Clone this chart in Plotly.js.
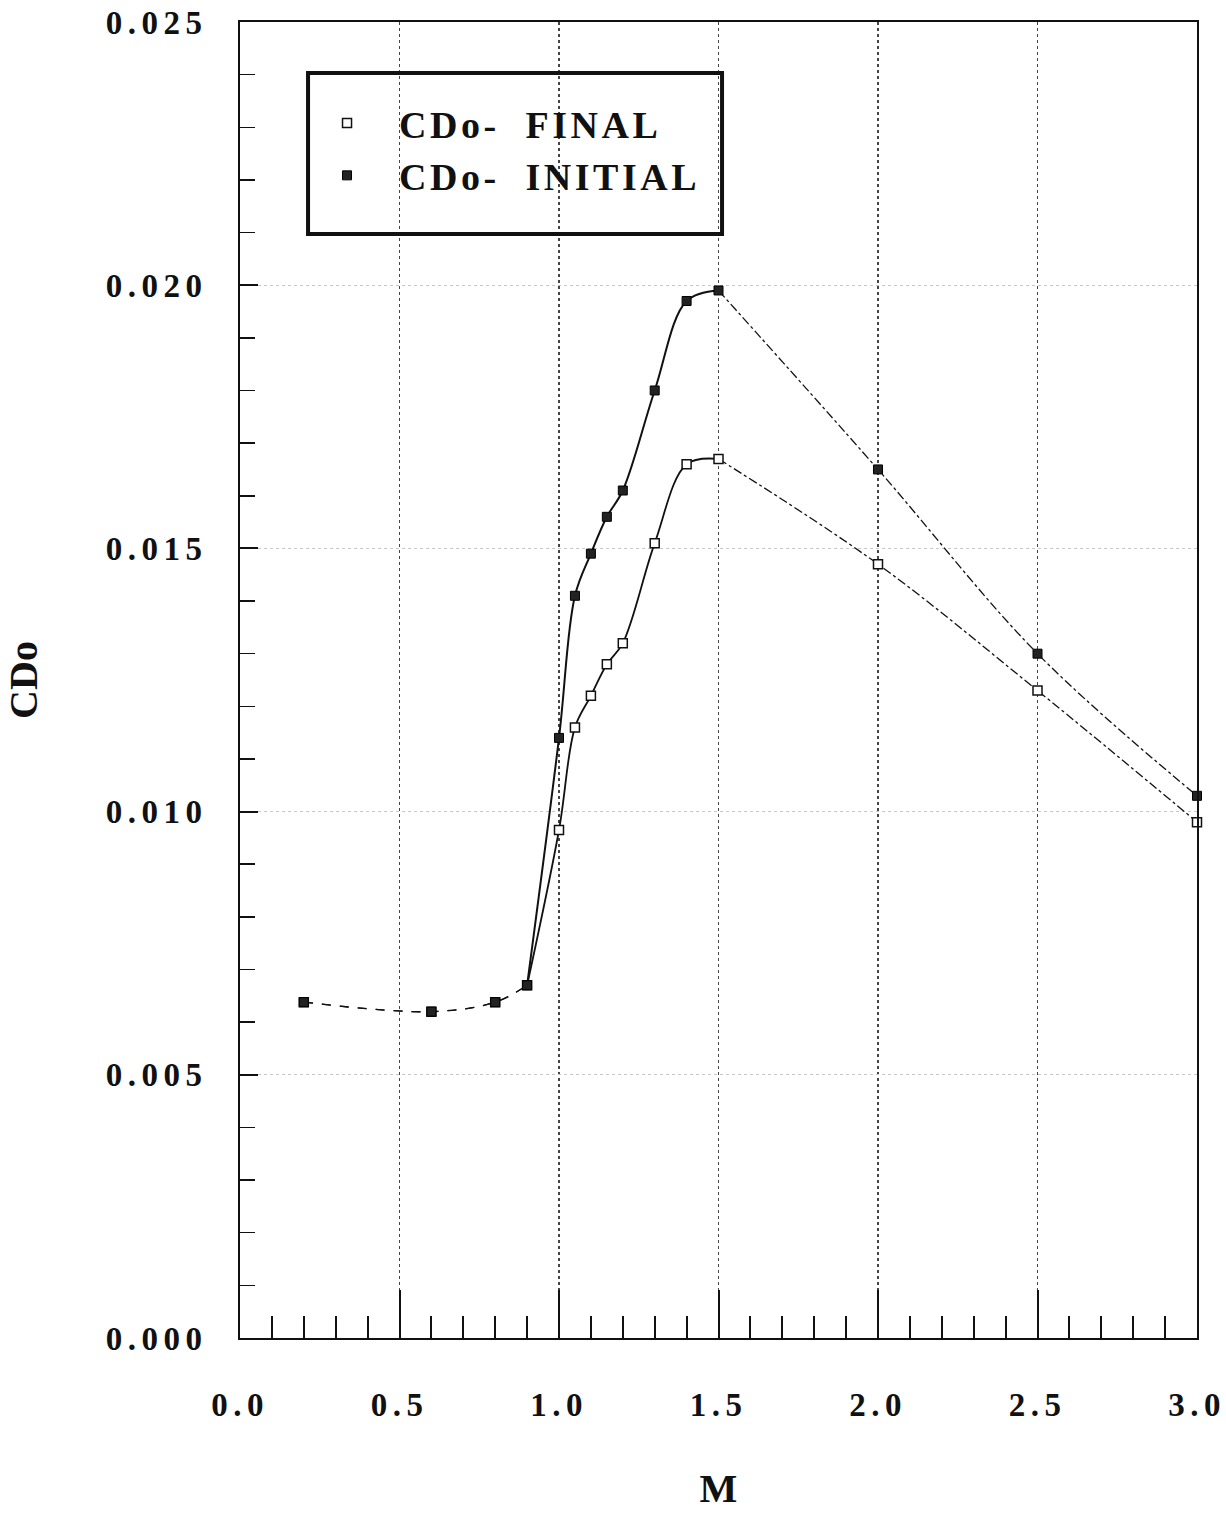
<!DOCTYPE html>
<html>
<head>
<meta charset="utf-8">
<script src="https://cdn.plot.ly/plotly-3.0.1.min.js"></script>
<style>
  html, body { margin: 0; padding: 0; background: #fff; }
  #chart { width: 1226px; height: 1516px; }
  .xtick text, .ytick text { letter-spacing: 5.5px; }
  .legendtext { letter-spacing: 3.5px; }
</style>
</head>
<body>
<div id="chart"></div>
<script>
// Mach numbers
const mach = [0.2, 0.6, 0.8, 0.9, 1.0, 1.05, 1.1, 1.15, 1.2, 1.3, 1.4, 1.5, 2.0, 2.5, 3.0];
// CDo initial (filled squares)
const cdoInitial = [0.00638, 0.0062, 0.00638, 0.0067, 0.0114, 0.0141, 0.0149, 0.0156, 0.0161, 0.0180, 0.0197, 0.0199, 0.0165, 0.0130, 0.0103];
// CDo final (open squares)
const cdoFinal = [0.00638, 0.0062, 0.00638, 0.0067, 0.00965, 0.0116, 0.0122, 0.0128, 0.0132, 0.0151, 0.0166, 0.0167, 0.0147, 0.0123, 0.0098];
// series names
const nameFinal = 'CDo-  FINAL';
const nameInitial = 'CDo-  INITIAL';
// tick labels
const xTickVals = [0, 0.5, 1.0, 1.5, 2.0, 2.5, 3.0];
const xTickText = ['0.0', '0.5', '1.0', '1.5', '2.0', '2.5', '3.0'];
const yTickVals = [0, 0.005, 0.010, 0.015, 0.020, 0.025];
const yTickText = ['0.000', '0.005', '0.010', '0.015', '0.020', '0.025'];

// segment boundaries (indices into mach)
const iTransStart = 3;   // M = 0.9
const iPeak = 11;        // M = 1.5

function seg(ys, a, b, dash, width, group) {
  return {
    x: mach.slice(a, b + 1), y: ys.slice(a, b + 1),
    mode: 'lines', type: 'scatter', showlegend: false, hoverinfo: 'skip',
    legendgroup: group, cliponaxis: false,
    line: { color: '#111', width: width, dash: dash, shape: 'spline', smoothing: 1 }
  };
}

const traces = [
  seg(cdoFinal, 0, iTransStart, 'dash', 1.3, 'f'),
  seg(cdoFinal, iTransStart, iPeak, 'solid', 1.8, 'f'),
  seg(cdoFinal, iPeak, mach.length - 1, 'dashdot', 1.3, 'f'),
  seg(cdoInitial, 0, iTransStart, 'dash', 1.3, 'i'),
  seg(cdoInitial, iTransStart, iPeak, 'solid', 2, 'i'),
  seg(cdoInitial, iPeak, mach.length - 1, 'dashdot', 1.3, 'i'),
  {
    x: mach, y: cdoFinal, mode: 'markers', type: 'scatter', name: nameFinal,
    legendgroup: 'f', cliponaxis: false,
    marker: { symbol: 'square', size: 9, color: '#fff', line: { color: '#111', width: 1.5 } }
  },
  {
    x: mach, y: cdoInitial, mode: 'markers', type: 'scatter', name: nameInitial,
    legendgroup: 'i', cliponaxis: false,
    marker: { symbol: 'square', size: 9, color: '#222', line: { color: '#000', width: 1 } }
  }
];

const tickFont = { family: 'Liberation Serif, Times New Roman, serif', size: 33, color: '#111', weight: 'bold' };

const layout = {
  width: 1226, height: 1516,
  margin: { l: 240, r: 29, t: 22, b: 178 },
  paper_bgcolor: '#fff', plot_bgcolor: '#fff',
  showlegend: true,
  legend: {
    x: 0.0575, y: 0.947, xanchor: 'left', yanchor: 'top',
    bgcolor: 'rgba(0,0,0,0)', borderwidth: 0,
    itemwidth: 94,
    tracegroupgap: 7, traceorder: 'normal',
    font: { family: 'Liberation Serif, Times New Roman, serif', size: 38, color: '#111', weight: 'bold' }
  },
  xaxis: {
    range: [0, 3.0], tickvals: xTickVals, ticktext: xTickText,
    tickfont: tickFont, ticks: 'inside', ticklen: 48, tickwidth: 2, tickcolor: '#111',
    ticklabelstandoff: 36, ticklabeloverflow: 'allow',
    minor: { dtick: 0.1, ticks: 'inside', ticklen: 22, tickwidth: 2, tickcolor: '#111', showgrid: false },
    showgrid: true, gridcolor: '#444', griddash: 'dot', gridwidth: 1.5,
    showline: true, linecolor: '#111', linewidth: 2, mirror: true, zeroline: false,
    title: { text: 'M', standoff: 52, font: { family: 'Liberation Serif, Times New Roman, serif', size: 40, color: '#111', weight: 'bold' } }
  },
  yaxis: {
    range: [0, 0.025], tickvals: yTickVals, ticktext: yTickText,
    tickfont: tickFont, ticks: 'inside', ticklen: 18, tickwidth: 2, tickcolor: '#111',
    ticklabelstandoff: 24, ticklabeloverflow: 'allow',
    minor: { dtick: 0.001, ticks: 'inside', ticklen: 15, tickwidth: 1.5, tickcolor: '#111', showgrid: false },
    showgrid: true, gridcolor: '#c8c8c8', griddash: 'dot', gridwidth: 1,
    showline: true, linecolor: '#111', linewidth: 2, mirror: true, zeroline: false,
    title: { text: 'CDo', standoff: 56, font: { family: 'Liberation Serif, Times New Roman, serif', size: 40, color: '#111', weight: 'bold' } }
  },
  shapes: [{
    type: 'rect', xref: 'paper', yref: 'paper',
    x0: 0.0711, x1: 0.5037, y0: 0.8389, y1: 0.9612,
    line: { color: '#111', width: 4 }, fillcolor: 'rgba(0,0,0,0)', layer: 'above'
  }]
};

Plotly.newPlot('chart', traces, layout, { displayModeBar: false, staticPlot: true });
</script>
</body>
</html>
